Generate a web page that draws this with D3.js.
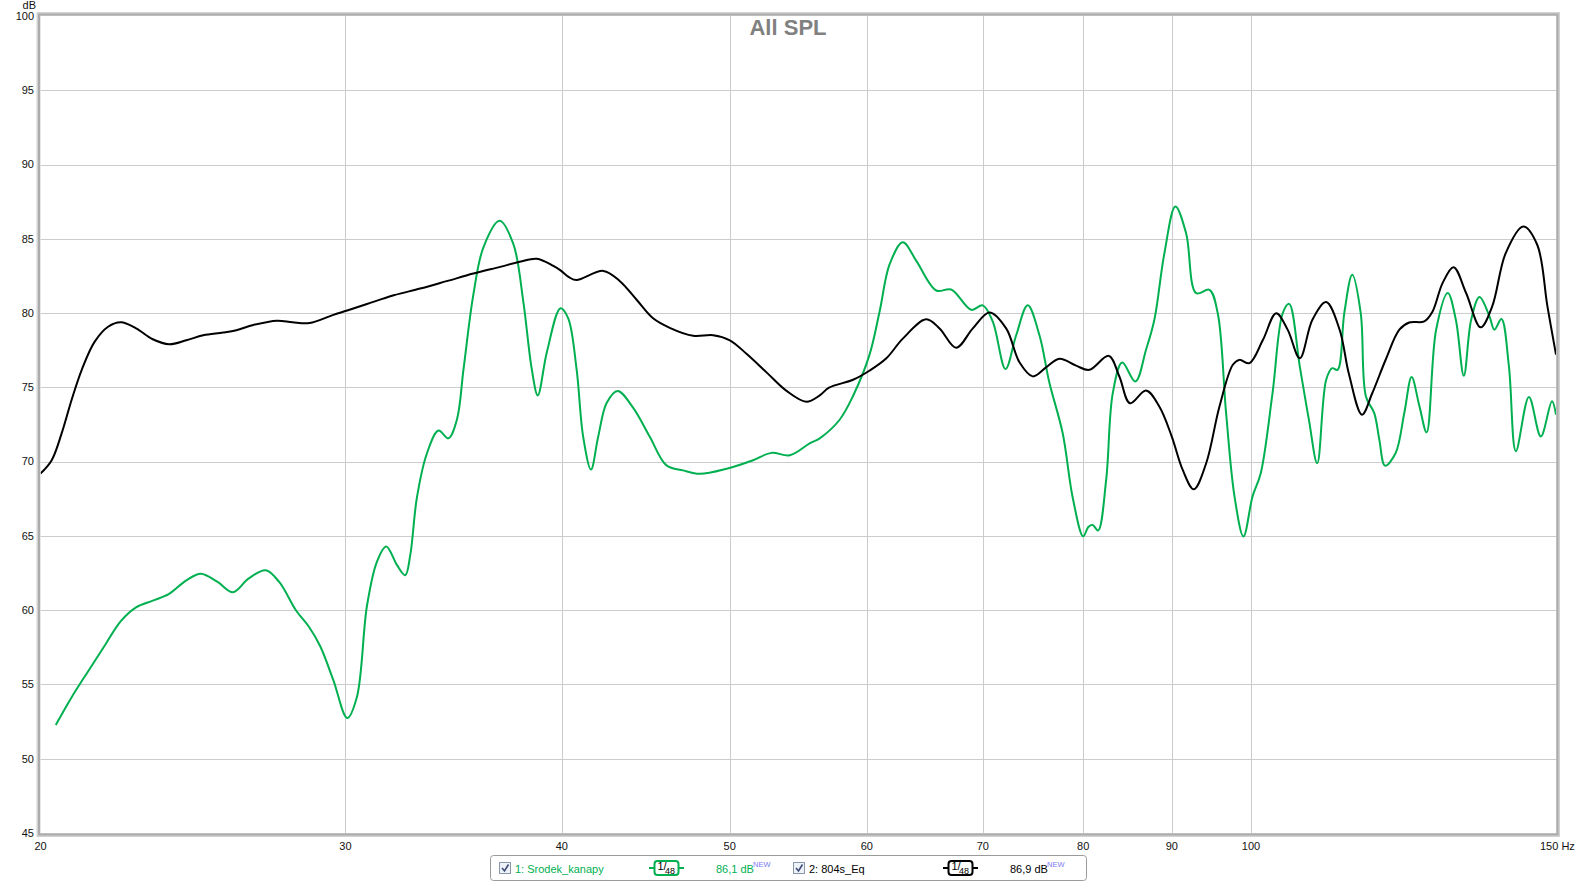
<!DOCTYPE html>
<html>
<head>
<meta charset="utf-8">
<script src="https://cdn.jsdelivr.net/npm/d3@7"></script>
<style>
  html, body { margin: 0; padding: 0; background: #ffffff; }
  svg { display: block; font-family: "Liberation Sans", Arial, sans-serif; }
</style>
</head>
<body>
<svg id="chart" width="1577" height="883"></svg>
<script>
// ---------------- data ----------------
const title = "All SPL";
const xTicks = [20, 30, 40, 50, 60, 70, 80, 90, 100, 150];
const xTickLabels = ["20", "30", "40", "50", "60", "70", "80", "90", "100", "150 Hz"];
const yTicks = [45, 50, 55, 60, 65, 70, 75, 80, 85, 90, 95, 100];
const yUnit = "dB";

const seriesNames = ["1: Srodek_kanapy", "2: 804s_Eq"];
const seriesColors = ["#00b050", "#000000"];
const seriesLevels = ["86,1 dB", "86,9 dB"];
const smoothingLabel = ["1", "48"];

// Series 1 (green): Srodek_kanapy
const greenFreq = [20.41, 20.85, 21.30, 21.77, 22.26, 22.71, 23.22, 23.73, 24.28, 24.75, 25.31, 25.83, 26.37, 26.98, 27.47, 28.10, 28.57, 29.01, 29.52, 30.07, 30.46, 30.87, 31.28, 31.67, 32.13, 32.48, 32.70, 32.99, 33.43, 33.95, 34.40, 34.79, 35.10, 35.56, 36.04, 36.82, 37.50, 38.00, 38.43, 38.74, 39.21, 39.93, 40.34, 40.79, 41.15, 41.58, 41.98, 42.46, 43.08, 43.98, 44.96, 45.97, 47.00, 48.05, 49.80, 51.58, 52.85, 54.16, 55.61, 56.36, 57.87, 58.91, 60.2, 61.03, 61.85, 62.94, 64.08, 65.80, 67.12, 68.94, 70.00, 70.94, 72.15, 73.18, 74.31, 75.48, 76.48, 77.85, 78.89, 80.0, 80.55, 81.02, 81.6, 82.48, 83.21, 84.26, 85.75, 86.97, 87.94, 89.12, 90.43, 91.73, 92.97, 94.62, 95.67, 96.74, 97.83, 99.00, 100.2, 101.3, 102.9, 104.3, 105.2, 106.7, 108.0, 109.2, 110.5, 111.4, 112.2, 113.2, 114.4, 115.7, 116.5, 117.8, 118.6, 119.5, 121.2, 122.6, 123.8, 125.1, 126.3, 127.9, 129.9, 131.3, 132.7, 134.0, 135.5, 137.3, 138.2, 139.5, 140.9, 142.2, 144.7, 147.0, 149.2, 150];
const greenDb = [52.27, 54.16, 55.86, 57.57, 59.28, 60.19, 60.64, 61.10, 62.01, 62.46, 61.90, 61.21, 62.12, 62.69, 61.90, 59.96, 58.90, 57.57, 55.29, 52.74, 54.16, 60.30, 63.26, 64.29, 63.03, 62.35, 63.72, 67.59, 70.55, 72.09, 71.57, 72.82, 76.24, 81.24, 84.43, 86.21, 84.66, 80.79, 76.24, 74.46, 77.37, 80.33, 79.65, 76.24, 71.68, 69.47, 71.68, 73.96, 74.76, 73.62, 71.68, 69.75, 69.41, 69.18, 69.52, 70.09, 70.59, 70.43, 71.23, 71.57, 72.82, 74.42, 77.15, 80.11, 83.29, 84.77, 83.52, 81.52, 81.59, 80.22, 80.52, 79.42, 76.24, 78.51, 80.52, 78.51, 75.33, 71.91, 67.59, 64.97, 65.60, 65.74, 65.36, 68.77, 74.61, 76.67, 75.39, 77.53, 79.55, 84.03, 87.18, 85.38, 81.34, 81.57, 79.99, 73.26, 67.65, 64.96, 67.65, 69.22, 74.61, 79.99, 80.62, 76.40, 72.81, 69.89, 75.50, 76.29, 76.18, 80.00, 82.58, 80.00, 74.39, 73.27, 71.48, 69.73, 70.58, 73.27, 75.70, 73.72, 71.97, 78.88, 81.35, 79.55, 75.78, 79.55, 81.08, 79.78, 78.88, 79.60, 76.41, 70.70, 74.35, 71.70, 74.06, 73.16];

// Series 2 (black): 804s_Eq
const blackFreq = [20.0, 20.30, 20.57, 20.85, 21.13, 21.49, 21.88, 22.26, 22.71, 23.22, 23.73, 24.28, 24.83, 25.50, 25.95, 26.54, 27.39, 27.96, 28.60, 29.52, 30.07, 30.87, 31.99, 33.13, 34.32, 35.56, 36.85, 37.83, 38.69, 39.55, 39.93, 40.40, 40.79, 42.27, 43.21, 44.18, 45.16, 46.17, 47.63, 48.91, 50.01, 51.13, 52.51, 53.93, 55.37, 56.36, 57.06, 58.91, 60.2, 61.58, 62.94, 64.93, 66.09, 67.57, 69.08, 70.63, 72.21, 73.50, 74.81, 76.15, 77.51, 79.25, 80.66, 82.76, 83.94, 85.14, 86.97, 88.52, 90.0, 91.32, 92.67, 94.21, 95.89, 97.61, 98.47, 99.79, 101.6, 103.4, 105.0, 106.7, 108.5, 110.5, 112.5, 113.9, 115.9, 117.5, 119.6, 121.8, 123.4, 125.9, 127.3, 129.0, 130.9, 133.1, 135.7, 137.8, 140.3, 143.6, 146.3, 148.3, 150];
const blackDb = [69.20, 70.10, 71.90, 74.20, 76.20, 78.06, 79.08, 79.38, 78.97, 78.24, 77.90, 78.17, 78.51, 78.69, 78.85, 79.20, 79.49, 79.38, 79.33, 79.88, 80.17, 80.61, 81.20, 81.65, 82.15, 82.66, 83.11, 83.45, 83.66, 83.18, 82.88, 82.40, 82.22, 82.84, 82.15, 80.90, 79.65, 79.01, 78.47, 78.51, 78.17, 77.26, 76.01, 74.76, 74.03, 74.46, 74.98, 75.51, 76.12, 76.96, 78.28, 79.58, 78.97, 77.67, 78.97, 80.04, 78.97, 76.69, 75.74, 76.35, 76.92, 76.46, 76.18, 77.12, 75.73, 73.93, 74.79, 73.71, 71.69, 69.44, 68.14, 69.89, 73.71, 76.52, 76.85, 76.63, 78.20, 79.99, 78.87, 76.96, 79.55, 80.74, 78.88, 75.90, 73.16, 74.62, 76.86, 78.88, 79.37, 79.44, 80.11, 82.02, 83.09, 81.35, 79.04, 80.45, 84.04, 85.83, 84.60, 80.45, 77.20];

// ---------------- drawing ----------------
const svg = d3.select("#chart");
const plotLeft = 40.5, plotRight = 1556, plotTop = 16, plotBottom = 833;

const x = d3.scaleLog().domain([20, 150]).range([plotLeft, plotRight]);
const y = d3.scaleLinear().domain([45, 100]).range([plotBottom, plotTop]);

svg.append("rect").attr("x", plotLeft).attr("y", plotTop)
  .attr("width", plotRight - plotLeft).attr("height", plotBottom - plotTop).attr("fill", "#ffffff");

// grid
const grid = svg.append("g");
grid.selectAll("line.h").data(yTicks.filter(d => d > 45 && d < 100)).enter().append("line")
  .attr("x1", plotLeft).attr("x2", plotRight)
  .attr("y1", d => Math.round(y(d)) + 0.5).attr("y2", d => Math.round(y(d)) + 0.5)
  .attr("stroke", "#cccccc").attr("stroke-width", 1);
grid.selectAll("line.v").data(xTicks.filter(d => d > 20 && d < 150)).enter().append("line")
  .attr("y1", plotTop).attr("y2", plotBottom)
  .attr("x1", d => Math.round(x(d)) + 0.5).attr("x2", d => Math.round(x(d)) + 0.5)
  .attr("stroke", "#cccccc").attr("stroke-width", 1);

// curves
svg.append("clipPath").attr("id", "plotclip").append("rect")
  .attr("x", plotLeft).attr("y", plotTop).attr("width", plotRight - plotLeft).attr("height", plotBottom - plotTop);

const lineGen = d3.line().x(d => x(d[0])).y(d => y(d[1])).curve(d3.curveCatmullRom.alpha(0.5));
const greenPts = greenFreq.map((f, i) => [f, greenDb[i]]);
const blackPts = blackFreq.map((f, i) => [f, blackDb[i]]);

const curves = svg.append("g").attr("clip-path", "url(#plotclip)");
curves.append("path").attr("d", lineGen(greenPts)).attr("fill", "none")
  .attr("stroke", seriesColors[0]).attr("stroke-width", 2).attr("stroke-linejoin", "round");
curves.append("path").attr("d", lineGen(blackPts)).attr("fill", "none")
  .attr("stroke", seriesColors[1]).attr("stroke-width", 2).attr("stroke-linejoin", "round");

// frame
svg.append("rect").attr("x", plotLeft - 2).attr("y", plotTop - 2)
  .attr("width", plotRight - plotLeft + 4).attr("height", plotBottom - plotTop + 4)
  .attr("fill", "none").attr("stroke", "#d2d2d2").attr("stroke-width", 4);
svg.append("rect").attr("x", plotLeft - 1.5).attr("y", plotTop - 1.5)
  .attr("width", plotRight - plotLeft + 3).attr("height", plotBottom - plotTop + 3)
  .attr("fill", "none").attr("stroke", "#acacac").attr("stroke-width", 2);

// y tick labels
svg.append("g").selectAll("text").data(yTicks).enter().append("text")
  .attr("x", 34).attr("y", d => y(d)).attr("dy", "0.35em")
  .attr("text-anchor", "end").attr("font-size", 11).attr("fill", "#111")
  .text(d => d);
svg.append("text").attr("x", 36).attr("y", 9).attr("text-anchor", "end")
  .attr("font-size", 11).attr("fill", "#111").text(yUnit);

// x tick labels
svg.append("g").selectAll("text").data(xTicks).enter().append("text")
  .attr("x", (d, i) => i === xTicks.length - 1 ? x(d) - 16 : x(d))
  .attr("y", 850)
  .attr("text-anchor", (d, i) => i === xTicks.length - 1 ? "start" : "middle")
  .attr("font-size", 11).attr("fill", "#111")
  .text((d, i) => xTickLabels[i]);

// title
svg.append("text").attr("x", 788).attr("y", 35).attr("text-anchor", "middle")
  .attr("font-size", 22).attr("font-weight", "bold").attr("fill", "#808080").text(title);

// legend
const lg = svg.append("g");
lg.append("rect").attr("x", 490.5).attr("y", 855.5).attr("width", 596).attr("height", 25)
  .attr("rx", 3).attr("fill", "#ffffff").attr("stroke", "#9a9a9a").attr("stroke-width", 1);

const legendItems = [
  { cb: 499, name: 515, sym: 649, lvl: 716 },
  { cb: 793, name: 809, sym: 943, lvl: 1010 }
];
legendItems.forEach((it, i) => {
  const col = seriesColors[i];
  const g = lg.append("g");
  g.append("rect").attr("x", it.cb + 0.5).attr("y", 862.5).attr("width", 11).attr("height", 11)
    .attr("fill", "#eef2f8").attr("stroke", "#8a97ab").attr("stroke-width", 1);
  g.append("path").attr("d", `M${it.cb + 3},${868} L${it.cb + 5.5},${871} L${it.cb + 9.5},${864.5}`)
    .attr("fill", "none").attr("stroke", "#3d4e78").attr("stroke-width", 1.6);
  g.append("text").attr("x", it.name).attr("y", 872.5).attr("font-size", 11)
    .attr("fill", col).text(seriesNames[i]);
  g.append("line").attr("x1", it.sym).attr("x2", it.sym + 35).attr("y1", 868).attr("y2", 868)
    .attr("stroke", col).attr("stroke-width", 2);
  g.append("rect").attr("x", it.sym + 5.5).attr("y", 861).attr("width", 24).attr("height", 14)
    .attr("rx", 3).attr("fill", "#ffffff").attr("stroke", col).attr("stroke-width", 2);
  g.append("text").attr("x", it.sym + 8.5).attr("y", 870).attr("font-size", 11)
    .attr("fill", "#000").text(smoothingLabel[0] + "/");
  g.append("text").attr("x", it.sym + 16).attr("y", 873.5).attr("font-size", 9)
    .attr("fill", "#000").text(smoothingLabel[1]);
  g.append("text").attr("x", it.lvl).attr("y", 872.5).attr("font-size", 11)
    .attr("fill", col).text(seriesLevels[i]);
  g.append("text").attr("x", it.lvl + 37).attr("y", 867).attr("font-size", 7.5)
    .attr("fill", "#7b7bf5").text("NEW");
});
</script>
</body>
</html>
